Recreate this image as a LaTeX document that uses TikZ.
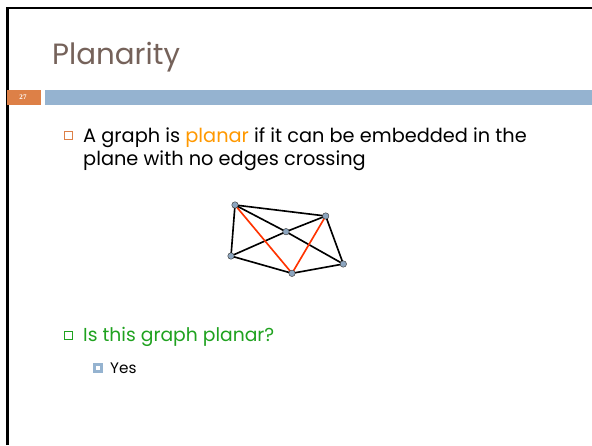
\documentclass[tikz,border=0pt]{standalone}
\usepackage{fontspec}
\setmainfont{Poppins}
\newfontfamily\numfont{Liberation Serif}
\definecolor{titlebrown}{HTML}{75625A}
\definecolor{barblue}{HTML}{95B3D0}
\definecolor{numorange}{HTML}{DD8047}
\definecolor{wordorange}{HTML}{FF9900}
\definecolor{askgreen}{HTML}{1FA21F}
\definecolor{vertexblue}{HTML}{8CA5BF}
\definecolor{edgered}{HTML}{FF3300}
\begin{document}
\begin{tikzpicture}[x=0.03cm,y=-0.03cm,
  vertex/.style={circle,draw=black!75,fill=vertexblue,line width=0.4pt,inner sep=0pt,minimum size=5.5pt},
  edge/.style={line width=1.4pt},
  hot/.style={edge,draw=edgered},
  bodytext/.style={anchor=base west,inner sep=0pt,font=\fontsize{16.5}{19}\selectfont}]
  \useasboundingbox (0,0) rectangle (592,445);
  \fill[white] (0,0) rectangle (592,445);
  % slide frame
  \draw[line width=1.8pt] (7.5,445) -- (7.5,8) -- (592,8);
  \node[anchor=base west,inner sep=0pt,text=titlebrown,font=\fontsize{25}{29}\selectfont] (title) at (52,64) {Planarity};
  \fill[numorange] (7,90) rectangle (41,105);
  \fill[barblue] (45,90) rectangle (592,105);
  \node[text=white,font=\numfont\fontsize{6}{7}\selectfont\bfseries] (num) at (23,97.5) {27};
  % bullets
  \draw[numorange,line width=0.6pt] (64.5,131) rectangle (72.5,139);
  \node[bodytext] (line1) at (83,142) {A graph is \textcolor{wordorange}{planar} if it can be embedded in the};
  \node[bodytext] (line2) at (83,165) {plane with no edges crossing};
  \draw[askgreen,line width=0.6pt] (64,331) rectangle (72,339);
  \node[bodytext,font=\fontsize{16}{19}\selectfont,text=askgreen] (ask) at (83,341) {Is this graph planar?};
  \fill[barblue] (93,363) rectangle (103,373);
  \fill[white] (96,366) rectangle (100,370);
  \node[bodytext,font=\fontsize{13}{16}\selectfont] (yes) at (110,373) {Yes};
  % the graph
  \foreach \n/\x/\y in {a/235/205, b/325.7/216, c/286/231.7, d/231/256, e/292/273.3, f/343.3/264}
    \coordinate (\n) at (\x,\y);
  \foreach \s/\t in {a/b, a/c, a/d, c/b, c/d, c/f, b/f, d/e, e/f}
    \draw[edge] (\s) -- (\t);
  \draw[hot] (a) -- (e) -- (b);
  \foreach \n in {a,b,c,d,e,f}
    \node[vertex] (v\n) at (\n) {};
\end{tikzpicture}
\end{document}
